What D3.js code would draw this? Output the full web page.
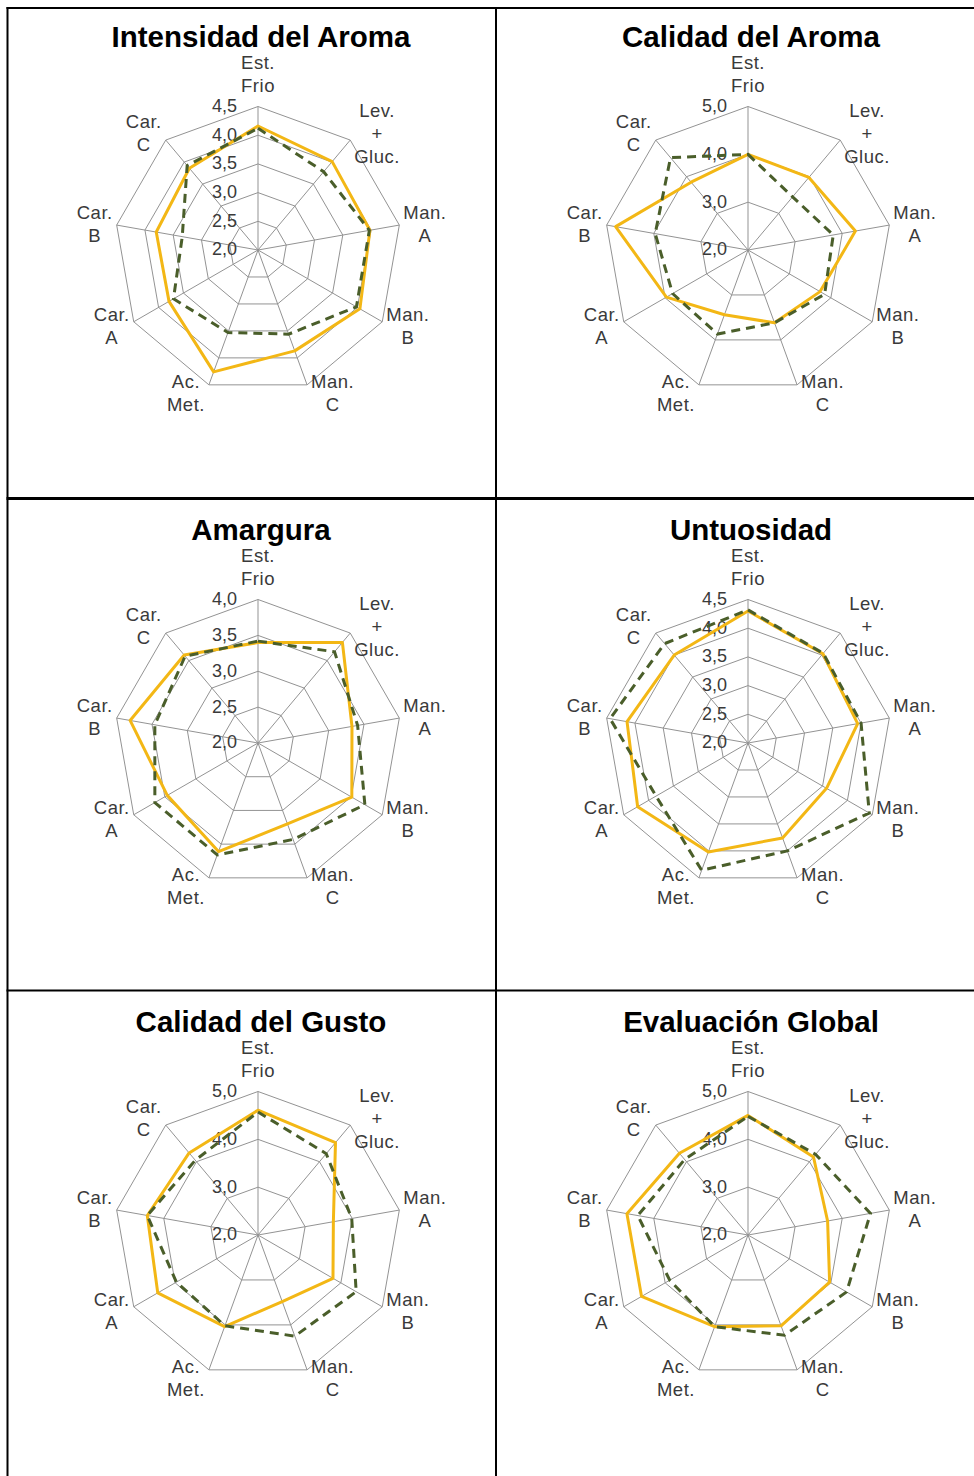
<!DOCTYPE html>
<html>
<head>
<meta charset="utf-8">
<script src="https://cdn.jsdelivr.net/npm/d3@7"></script>
<style>
  html, body { margin: 0; padding: 0; background: #fff; }
  svg { display: block; }
  .title { font-family: "Liberation Sans", Arial, sans-serif; font-weight: bold; font-size: 29.5px; fill: #000; }
  .axis-label { font-family: "Liberation Sans", Arial, sans-serif; font-size: 18.5px; fill: #3a3a3a; letter-spacing: 0.5px; }
  .tick-label { font-family: "Liberation Sans", Arial, sans-serif; font-size: 18px; fill: #3a3a3a; }
</style>
</head>
<body>
<svg id="radar-grid" width="974" height="1476"></svg>
<script>
// axes of every radar, clockwise from the top
const axisLabels = ["Est.\nFrio", "Lev.\n+\nGluc.", "Man.\nA", "Man.\nB", "Man.\nC", "Ac.\nMet.", "Car.\nA", "Car.\nB", "Car.\nC"];

const titles = ["Intensidad del Aroma", "Calidad del Aroma", "Amargura", "Untuosidad", "Calidad del Gusto", "Evaluación Global"];

// scale ticks of each chart (centre = first tick)
const ticksIntensidad = [2.0, 2.5, 3.0, 3.5, 4.0, 4.5];
const ticksCalidadAroma = [2.0, 3.0, 4.0, 5.0];
const ticksAmargura = [2.0, 2.5, 3.0, 3.5, 4.0];
const ticksUntuosidad = [2.0, 2.5, 3.0, 3.5, 4.0, 4.5];
const ticksCalidadGusto = [2.0, 3.0, 4.0, 5.0];
const ticksGlobal = [2.0, 3.0, 4.0, 5.0];

// solid (yellow) and dashed (green) series, in axis order
const intensidadSolid = [4.16, 4.01, 3.98, 4.05, 3.87, 4.26, 3.79, 3.80, 3.86];
const intensidadDashed = [4.12, 3.78, 3.97, 3.98, 3.56, 3.53, 3.70, 3.34, 3.92];

const calidadAromaSolid = [4.00, 3.98, 4.28, 3.74, 3.62, 3.44, 3.97, 4.81, 3.85];
const calidadAromaDashed = [4.00, 3.45, 3.81, 3.85, 3.62, 3.87, 3.82, 3.97, 4.52];

const amarguraSolid = [3.40, 3.83, 3.33, 3.51, 3.20, 3.61, 3.46, 3.81, 3.60];
const amarguraDashed = [3.42, 3.66, 3.41, 3.72, 3.43, 3.66, 3.66, 3.46, 3.58];

const untuosidadSolid = [4.30, 4.03, 3.94, 3.58, 3.76, 4.02, 4.22, 4.14, 4.00];
const untuosidadDashed = [4.32, 4.04, 4.00, 4.44, 4.00, 4.36, 3.85, 4.44, 4.26];

const calidadGustoSolid = [4.61, 4.52, 3.60, 3.81, 3.48, 4.04, 4.42, 4.35, 4.24];
const calidadGustoDashed = [4.57, 4.22, 3.99, 4.37, 4.25, 4.02, 3.97, 4.35, 4.04];

const globalSolid = [4.50, 4.13, 3.69, 3.97, 4.02, 4.04, 4.57, 4.57, 4.23];
const globalDashed = [4.48, 4.20, 4.60, 4.38, 4.23, 4.04, 3.89, 4.34, 4.06];

const charts = [
  { title: titles[0], ticks: ticksIntensidad, solid: intensidadSolid, dashed: intensidadDashed },
  { title: titles[1], ticks: ticksCalidadAroma, solid: calidadAromaSolid, dashed: calidadAromaDashed },
  { title: titles[2], ticks: ticksAmargura, solid: amarguraSolid, dashed: amarguraDashed },
  { title: titles[3], ticks: ticksUntuosidad, solid: untuosidadSolid, dashed: untuosidadDashed },
  { title: titles[4], ticks: ticksCalidadGusto, solid: calidadGustoSolid, dashed: calidadGustoDashed },
  { title: titles[5], ticks: ticksGlobal, solid: globalSolid, dashed: globalDashed },
];

const svg = d3.select("#radar-grid");
const colCenters = [258, 748];
const rowCenters = [250, 743, 1235];
const radius = 143.5;
const nAxes = axisLabels.length;
const angleOf = (i) => (i * 2 * Math.PI) / nAxes;
const fmt = (v) => d3.format(".1f")(v).replace(".", ",");

// table frame
const frame = svg.append("g").attr("stroke", "#000").attr("fill", "none");
frame.append("line").attr("x1", 7.5).attr("x2", 7.5).attr("y1", 7).attr("y2", 1476).attr("stroke-width", 2);
frame.append("line").attr("x1", 6.5).attr("x2", 974).attr("y1", 8).attr("y2", 8).attr("stroke-width", 2);
frame.append("line").attr("x1", 496).attr("x2", 496).attr("y1", 7).attr("y2", 1476).attr("stroke-width", 2);
frame.append("line").attr("x1", 6.5).attr("x2", 974).attr("y1", 498.5).attr("y2", 498.5).attr("stroke-width", 3);
frame.append("line").attr("x1", 6.5).attr("x2", 974).attr("y1", 990.5).attr("y2", 990.5).attr("stroke-width", 2);

charts.forEach((chart, idx) => {
  const cx = colCenters[idx % 2];
  const cy = rowCenters[Math.floor(idx / 2)];
  const g = svg.append("g").attr("transform", `translate(${cx},${cy})`);

  const r = d3.scaleLinear()
    .domain([chart.ticks[0], chart.ticks[chart.ticks.length - 1]])
    .range([0, radius]);

  const radar = d3.lineRadial()
    .angle((d, i) => angleOf(i))
    .radius((d) => r(d))
    .curve(d3.curveLinearClosed);

  // title
  svg.append("text")
    .attr("class", "title")
    .attr("x", cx + 3)
    .attr("y", cy - 203)
    .attr("text-anchor", "middle")
    .text(chart.title);

  // rings
  chart.ticks.slice(1).forEach((t) => {
    g.append("path")
      .attr("d", radar(axisLabels.map(() => t)))
      .attr("fill", "none")
      .attr("stroke", "#939393")
      .attr("stroke-width", 1);
  });

  // spokes
  axisLabels.forEach((lab, i) => {
    const a = angleOf(i);
    g.append("line")
      .attr("x1", 0).attr("y1", 0)
      .attr("x2", radius * Math.sin(a))
      .attr("y2", -radius * Math.cos(a))
      .attr("stroke", "#939393")
      .attr("stroke-width", 1);
  });

  // tick labels
  chart.ticks.forEach((t) => {
    g.append("text")
      .attr("class", "tick-label")
      .attr("x", -21)
      .attr("y", -r(t))
      .attr("dy", "0.3em")
      .attr("text-anchor", "end")
      .text(fmt(t));
  });

  // axis labels
  const lineH = 23;
  axisLabels.forEach((lab, i) => {
    const a = angleOf(i);
    const sx = Math.sin(a);
    const vx = radius * sx;
    const vy = -radius * Math.cos(a);
    const lines = lab.split("\n");
    const text = g.append("text").attr("class", "axis-label").attr("text-anchor", "middle");
    const spans = lines.map((l) => text.append("tspan").text(l));
    const w = d3.max(spans, (s) => s.node().getComputedTextLength());
    const h = lines.length * lineH;
    let bx, by;
    if (Math.abs(sx) < 0.1) {
      bx = vx;
      by = vy - 10 - h / 2;
    } else {
      bx = vx + Math.sign(sx) * (4 + w / 2);
      by = vy - Math.cos(a) * 9;
    }
    spans.forEach((s, k) => {
      s.attr("x", bx).attr("y", by - h / 2 + lineH * (k + 0.5) + 6.5);
    });
  });

  // series
  g.append("path")
    .attr("d", radar(chart.solid))
    .attr("fill", "none")
    .attr("stroke", "#F3B715")
    .attr("stroke-width", 3)
    .attr("stroke-linejoin", "round");

  g.append("path")
    .attr("d", radar(chart.dashed))
    .attr("fill", "none")
    .attr("stroke", "#4A5E2A")
    .attr("stroke-width", 3)
    .attr("stroke-dasharray", "9,6");
});
</script>
</body>
</html>
